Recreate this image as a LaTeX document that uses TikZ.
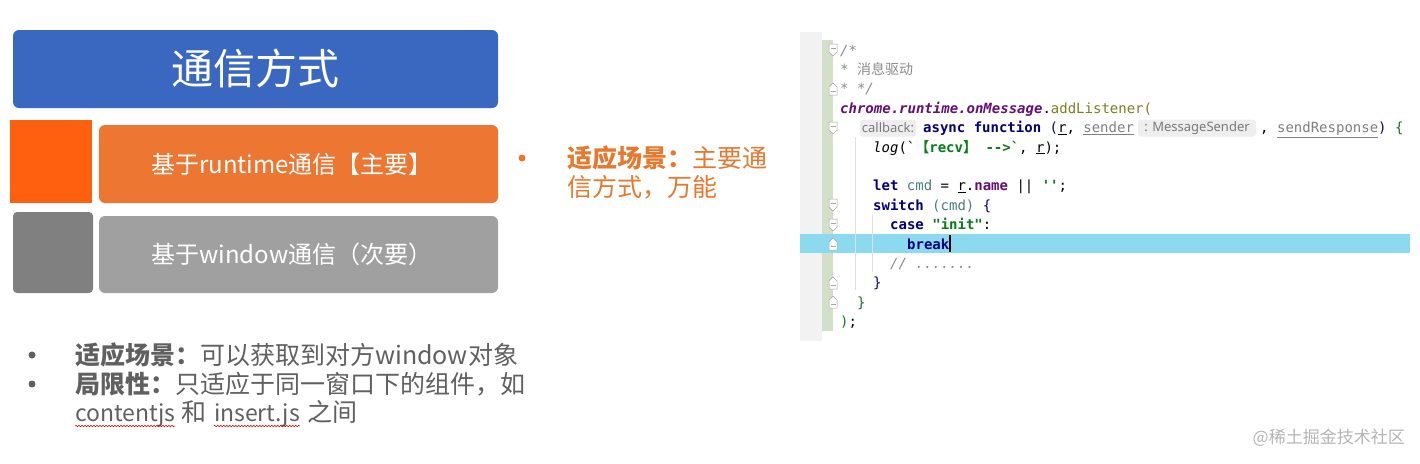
\documentclass[tikz,border=0pt]{standalone}
\usepackage{fontspec}
\setmainfont{Noto Sans CJK SC}
\newfontfamily\cjk{Noto Sans CJK SC}
\newfontfamily\codefont{DejaVu Sans Mono}
\newfontfamily\hintfont{Noto Sans}
\usetikzlibrary{decorations.pathmorphing}
\definecolor{blueBox}{HTML}{3A67C0}
\definecolor{orangeBox}{HTML}{ED7632}
\definecolor{orangeSq}{HTML}{FF6010}
\definecolor{grayBox}{HTML}{A0A0A0}
\definecolor{graySq}{HTML}{808080}
\definecolor{orangeTxt}{HTML}{E8782E}
\definecolor{grayTxt}{HTML}{606060}
\definecolor{hl}{HTML}{8CDAF0}
\definecolor{gutter}{HTML}{F2F2F2}
\definecolor{gutterGreen}{HTML}{D2E0CA}
\definecolor{kw}{HTML}{000080}
\definecolor{purp}{HTML}{660E7A}
\definecolor{olive}{HTML}{7D7D22}
\definecolor{str}{HTML}{067D17}
\definecolor{cmt}{HTML}{8C8C8C}
\definecolor{lvar}{HTML}{4C7F7F}
\definecolor{unused}{HTML}{808080}
\definecolor{hintbg}{HTML}{EEEEEE}
\definecolor{hinttxt}{HTML}{7A7A7A}
\definecolor{guide}{HTML}{E0E0E0}
\definecolor{wm}{HTML}{B5B5B5}
\tikzset{
  box/.style={rounded corners=6pt},
  boxtext/.style={text=white, font=\fontsize{24}{28}\selectfont, inner sep=0pt},
  bullettxt/.style={anchor=base west, inner sep=0pt, font=\fontsize{25}{29}\selectfont},
  bulletdot/.style={circle, inner sep=0pt, minimum size=7pt},
  codeline/.style={anchor=base west, inner sep=0pt, font=\codefont\fontsize{14}{16}\selectfont},
  hint/.style={fill=hintbg, rounded corners=3pt, text=hinttxt, font=\hintfont\fontsize{13}{15}\selectfont, inner xsep=2pt, inner ysep=0pt, minimum height=17pt},
  foldopen/.style={fill=white, draw=black!35, line width=0.5pt},
  spell/.style={red!80!black, line width=0.5pt, decorate, decoration={snake, amplitude=0.8pt, segment length=3pt}},
}
\begin{document}
\begin{tikzpicture}[x=1pt,y=-1pt]
\useasboundingbox (0,0) rectangle (1420,463);
\fill[white] (0,0) rectangle (1420,463);

% ---------- left boxes ----------
\fill[blueBox, box] (13,30) rectangle (498,108);
\node[text=white, font=\fontsize{42}{48}\selectfont, inner sep=0pt] (title) at (255,68) {通信方式};

\fill[orangeSq] (10,120) rectangle (92,203);
\fill[orangeBox, box] (99,125) rectangle (498,203);
\node[boxtext] (rt) at (292,164) {基于runtime通信【主要】};

\fill[graySq, rounded corners=4pt] (13,212) rectangle (93,293);
\fill[grayBox, box] (99,216) rectangle (498,293);
\node[boxtext] (win) at (292,254) {基于window通信（次要）};

% ---------- orange bullet ----------
\node[bulletdot, fill=orangeTxt] (ob) at (522,158) {};
\node[bullettxt, text=orangeTxt] (o1) at (567,167) {{\bfseries 适应场景：}主要通};
\node[bullettxt, text=orangeTxt] (o2) at (567,196) {信方式，万能};

% ---------- bottom bullets ----------
\node[bulletdot, fill=grayTxt] (b1) at (32,355) {};
\node[bulletdot, fill=grayTxt] (b2) at (32,384) {};
\node[bullettxt, text=grayTxt] (g1) at (75,364) {{\bfseries 适应场景：}可以获取到对方window对象};
\node[bullettxt, text=grayTxt] (g2) at (75,393) {{\bfseries 局限性：}只适应于同一窗口下的组件，如};
\node[bullettxt, text=grayTxt, font=\fontsize{23}{29}\selectfont] (cj) at (75,421) {contentjs};
\node[bullettxt, text=grayTxt] (he) at ([xshift=6pt]cj.base east) {和};
\node[bullettxt, text=grayTxt, font=\fontsize{23}{29}\selectfont] (ins) at ([xshift=7pt]he.base east) {insert.js};
\node[bullettxt, text=grayTxt] (zj) at ([xshift=7pt]ins.base east) {之间};
\draw[spell] ([yshift=-5pt]cj.base west) -- ([yshift=-5pt]cj.base east);
\draw[spell] ([yshift=-5pt]ins.base west) -- ([yshift=-5pt]ins.base east);

% ---------- code panel ----------
\fill[gutter] (800,32) rectangle (822,341);
\fill[gutterGreen] (822,40) rectangle (833,331);
\fill[hl] (800,234) rectangle (1410,253);
\draw[guide, line width=0.8pt] (855,137) -- (855,290);
\draw[guide, line width=0.8pt] (872,215) -- (872,272);

% fold markers
\foreach \yy in {50,128,205,225} {
  \draw[foldopen] (829,\yy-6) -- (837,\yy-6) -- (837,\yy+2) -- (833,\yy+6) -- (829,\yy+2) -- cycle;
  \draw[black!35, line width=0.5pt] (830.5,\yy-2) -- (835.5,\yy-2);
}
\foreach \yy in {89,244,283,302} {
  \draw[foldopen] (829,\yy+6) -- (837,\yy+6) -- (837,\yy-2) -- (833,\yy-6) -- (829,\yy-2) -- cycle;
  \draw[black!35, line width=0.5pt] (830.5,\yy+2) -- (835.5,\yy+2);
}

\node[codeline] (c0) at (840,55) {\color{cmt}\itshape /*};
\node[codeline] (c1) at (840,74.4) {\color{cmt}\itshape * {\cjk\upshape\fontsize{14}{16}\selectfont 消息驱动}};
\node[codeline] (c2) at (840,93.8) {\color{cmt}\itshape * */};
\node[codeline] (c3) at (840,113.2) {{\color{purp}\bfseries\itshape chrome.runtime.onMessage}.{\color{olive}addListener(}};
\node[hint] (cb) at (888,128) {callback:};
\node[codeline] (c4a) at (923,132.6) {{\color{kw}\bfseries async function} {\color{kw}(}\underline{r}, {\color{unused}\underline{sender}}};
\node[hint, minimum width=118pt] (ms) at (1197,128) {: MessageSender};
\node[codeline] (c4b) at (1260,132.6) {, {\color{unused}\underline{sendResponse}}{\color{kw})} {\color{str}\{}};
\node[codeline] (c5) at (873,152) {{\itshape log}(`{\color{str}\bfseries{\cjk\fontsize{14}{16}\selectfont 【}recv{\cjk\fontsize{14}{16}\selectfont 】} -->`}, \underline{r});};
\node[codeline] (c7) at (873,190.8) {{\color{kw}\bfseries let} {\color{lvar}cmd} = \underline{r}.{\color{purp}\bfseries name} || {\color{str}\bfseries ''};};
\node[codeline] (c8) at (873,210.2) {{\color{kw}\bfseries switch} {\color{lvar}(cmd)} {\color{kw}\{}};
\node[codeline] (c9) at (890,229.6) {{\color{kw}\bfseries case} {\color{str}\bfseries "init"}:};
\node[codeline] (c10) at (907,249) {{\color{kw}\bfseries break}};
\draw[black, line width=1.3pt] ([xshift=0.5pt,yshift=14pt]c10.base east) -- ([xshift=0.5pt,yshift=-3pt]c10.base east);
\node[codeline] (c11) at (890,268.4) {\color{cmt}\itshape // .......};
\node[codeline] (c12) at (873,287.8) {\color{kw}\}};
\node[codeline] (c13) at (857,307.2) {\color{str}\}};
\node[codeline] (c14) at (840,326.6) {{\color{str})};};

% ---------- watermark ----------
\node[anchor=east, text=wm, font=\fontsize{17}{20}\selectfont, inner sep=0pt] (wmk) at (1405,438) {@稀土掘金技术社区};
\end{tikzpicture}
\end{document}
